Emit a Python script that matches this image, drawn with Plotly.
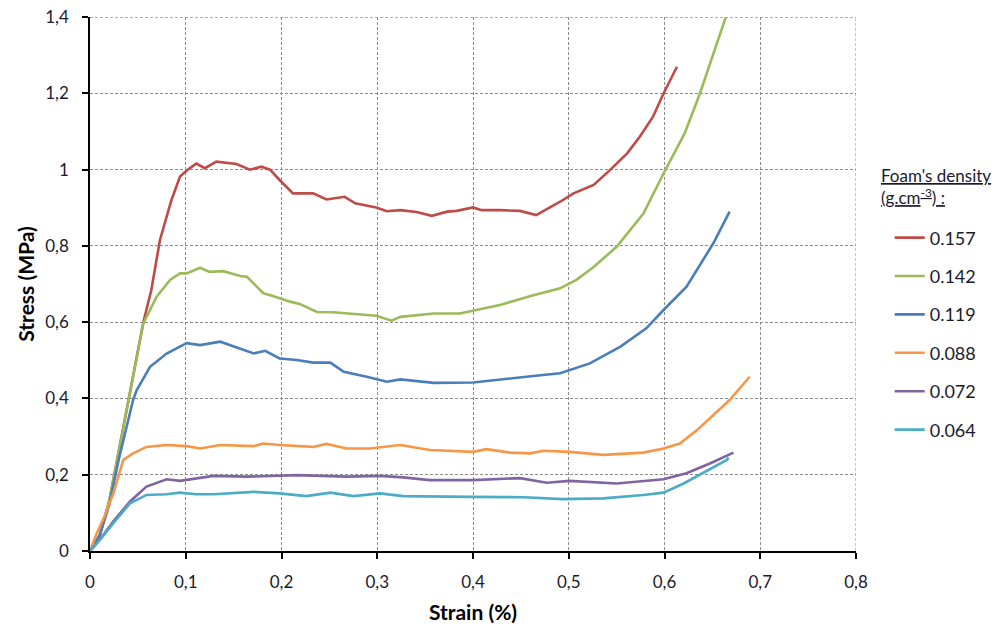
import plotly.graph_objects as go

# ---- data (strain, stress) ----
names = ["0.157", "0.142", "0.119", "0.088", "0.072", "0.064"]
colors = ["#BE4B48", "#9BBB59", "#4A7EBB", "#F79646", "#8064A2", "#4BACC6"]

x_157 = [0, 0.01, 0.02, 0.03, 0.042, 0.0557, 0.064, 0.073, 0.085, 0.094, 0.102, 0.111, 0.12, 0.132, 0.153, 0.167, 0.179, 0.188, 0.198, 0.212, 0.226, 0.233, 0.247, 0.266, 0.277, 0.299, 0.31, 0.324, 0.341, 0.357, 0.373, 0.383, 0.40, 0.409, 0.428, 0.449, 0.466, 0.477, 0.491, 0.505, 0.526, 0.543, 0.561, 0.574, 0.588, 0.599, 0.613]
y_157 = [0, 0.04, 0.13, 0.26, 0.42, 0.6, 0.684, 0.815, 0.92, 0.982, 1.0, 1.016, 1.004, 1.021, 1.015, 1.0, 1.008, 1.0, 0.973, 0.938, 0.938, 0.938, 0.922, 0.929, 0.912, 0.901, 0.891, 0.894, 0.889, 0.879, 0.89, 0.892, 0.901, 0.894, 0.894, 0.892, 0.881, 0.896, 0.916, 0.938, 0.96, 0.999, 1.043, 1.086, 1.139, 1.2, 1.27]

x_142 = [0, 0.01, 0.02, 0.03, 0.042, 0.0557, 0.0696, 0.0836, 0.094, 0.101, 0.115, 0.125, 0.139, 0.157, 0.164, 0.181, 0.191, 0.209, 0.219, 0.237, 0.254, 0.282, 0.299, 0.315, 0.324, 0.359, 0.386, 0.40, 0.428, 0.463, 0.491, 0.508, 0.526, 0.55, 0.578, 0.599, 0.621, 0.637, 0.651, 0.664]
y_142 = [0, 0.04, 0.13, 0.26, 0.42, 0.597, 0.667, 0.711, 0.728, 0.728, 0.743, 0.732, 0.734, 0.721, 0.719, 0.676, 0.669, 0.654, 0.648, 0.627, 0.626, 0.621, 0.617, 0.604, 0.614, 0.623, 0.623, 0.63, 0.645, 0.671, 0.689, 0.711, 0.745, 0.798, 0.885, 0.99, 1.095, 1.2, 1.305, 1.4]

x_119 = [0, 0.01, 0.02, 0.03, 0.045, 0.0488, 0.0627, 0.08, 0.101, 0.115, 0.136, 0.15, 0.171, 0.183, 0.198, 0.216, 0.233, 0.251, 0.265, 0.289, 0.31, 0.324, 0.359, 0.40, 0.428, 0.463, 0.491, 0.515, 0.522, 0.554, 0.581, 0.599, 0.623, 0.651, 0.668]
y_119 = [0, 0.04, 0.12, 0.24, 0.396, 0.422, 0.483, 0.518, 0.545, 0.54, 0.549, 0.537, 0.518, 0.525, 0.505, 0.501, 0.494, 0.494, 0.47, 0.457, 0.444, 0.45, 0.441, 0.442, 0.45, 0.459, 0.466, 0.485, 0.492, 0.536, 0.584, 0.632, 0.693, 0.807, 0.89]

x_088 = [0, 0.007, 0.015, 0.0244, 0.0348, 0.045, 0.059, 0.08, 0.101, 0.115, 0.136, 0.171, 0.181, 0.198, 0.233, 0.247, 0.268, 0.292, 0.324, 0.355, 0.40, 0.414, 0.439, 0.46, 0.473, 0.501, 0.536, 0.578, 0.599, 0.616, 0.634, 0.651, 0.668, 0.689]
y_088 = [0, 0.046, 0.09, 0.151, 0.239, 0.256, 0.273, 0.278, 0.275, 0.269, 0.278, 0.275, 0.282, 0.278, 0.273, 0.281, 0.269, 0.269, 0.278, 0.265, 0.26, 0.267, 0.258, 0.256, 0.263, 0.26, 0.252, 0.258, 0.269, 0.282, 0.317, 0.357, 0.396, 0.457]

x_072 = [0, 0.0104, 0.0244, 0.0418, 0.059, 0.08, 0.094, 0.111, 0.129, 0.164, 0.216, 0.268, 0.303, 0.327, 0.355, 0.40, 0.449, 0.477, 0.501, 0.55, 0.599, 0.623, 0.648, 0.672]
y_072 = [0, 0.03, 0.078, 0.13, 0.169, 0.188, 0.184, 0.19, 0.197, 0.195, 0.199, 0.195, 0.197, 0.193, 0.186, 0.186, 0.191, 0.179, 0.184, 0.177, 0.188, 0.204, 0.23, 0.258]

x_064 = [0, 0.0104, 0.0244, 0.0418, 0.059, 0.08, 0.094, 0.111, 0.129, 0.171, 0.198, 0.226, 0.251, 0.275, 0.303, 0.327, 0.397, 0.453, 0.494, 0.536, 0.578, 0.599, 0.62, 0.641, 0.665, 0.667]
y_064 = [0, 0.029, 0.073, 0.125, 0.147, 0.149, 0.153, 0.149, 0.149, 0.155, 0.151, 0.144, 0.153, 0.144, 0.151, 0.144, 0.142, 0.141, 0.136, 0.138, 0.147, 0.153, 0.177, 0.205, 0.239, 0.245]

xs = [x_157, x_142, x_119, x_088, x_072, x_064]
ys = [y_157, y_142, y_119, y_088, y_072, y_064]

x_ticks = [0, 0.1, 0.2, 0.3, 0.4, 0.5, 0.6, 0.7, 0.8]
x_ticktext = ["0", "0,1", "0,2", "0,3", "0,4", "0,5", "0,6", "0,7", "0,8"]
y_ticks = [0, 0.2, 0.4, 0.6, 0.8, 1.0, 1.2, 1.4]
y_ticktext = ["0", "0,2", "0,4", "0,6", "0,8", "1", "1,2", "1,4"]

FONT = "Lato"
TXT = "#1a1a2e"
GRID = "#8c8c8c"
DASH = "3px,2px"

fig = go.Figure()
for i in range(len(names)):
    fig.add_trace(go.Scatter(
        x=xs[i], y=ys[i], mode="lines", name=names[i],
        legendgroup=names[i],
        line=dict(color=colors[i], width=2.6),
    ))

fig.update_layout(
    width=1001, height=630,
    margin=dict(l=90, r=145, t=17, b=79, autoexpand=False),
    paper_bgcolor="white", plot_bgcolor="white",
    font=dict(family=FONT, size=16, color=TXT),
    showlegend=True,
    legend=dict(
        x=1.044, xanchor="left", y=0.621, yanchor="top",
        font=dict(family=FONT, size=18, color=TXT),
        tracegroupgap=12, bgcolor="rgba(0,0,0,0)",
    ),
    annotations=[dict(
        xref="paper", yref="paper", x=1.03, y=0.726, xanchor="left", yanchor="top",
        text="<u>Foam's density</u><br><u>(g.cm<sup>-3</sup>) :</u>",
        showarrow=False, align="left",
        font=dict(family=FONT, size=17, color=TXT),
    )],
    shapes=[
        dict(type="line", xref="x", yref="paper", x0=0.8, x1=0.8, y0=0, y1=1,
             line=dict(color=GRID, width=1, dash=DASH), layer="below"),
        dict(type="line", xref="paper", yref="y", x0=0, x1=1, y0=1.4, y1=1.4,
             line=dict(color=GRID, width=1, dash=DASH), layer="below"),
    ],
)

fig.update_xaxes(
    range=[0, 0.8], tickvals=x_ticks, ticktext=x_ticktext, automargin=False,
    showgrid=True, gridcolor=GRID, griddash=DASH, gridwidth=1,
    showline=True, linecolor="black", linewidth=1.5,
    ticks="outside", ticklen=6, tickcolor="black", tickwidth=1.5,
    zeroline=False, ticklabelstandoff=9, ticklabeloverflow="allow",
    tickfont=dict(family=FONT, size=17, color=TXT),
    title=dict(text="<b>Strain (%)</b>", font=dict(family=FONT, size=21, color="black"), standoff=14),
)
fig.update_yaxes(
    range=[0, 1.4005], tickvals=y_ticks, ticktext=y_ticktext, automargin=False,
    showgrid=True, gridcolor=GRID, griddash=DASH, gridwidth=1,
    showline=True, linecolor="black", linewidth=1.5,
    ticks="outside", ticklen=6, tickcolor="black", tickwidth=1.5,
    zeroline=False, ticklabelstandoff=10, ticklabeloverflow="allow",
    tickfont=dict(family=FONT, size=17, color=TXT),
    title=dict(text="<b>Stress (MPa)</b>", font=dict(family=FONT, size=21, color="black"), standoff=5),
)

fig.write_html("out.html", config={"displayModeBar": False},
               post_script="document.body.style.margin='0';")
